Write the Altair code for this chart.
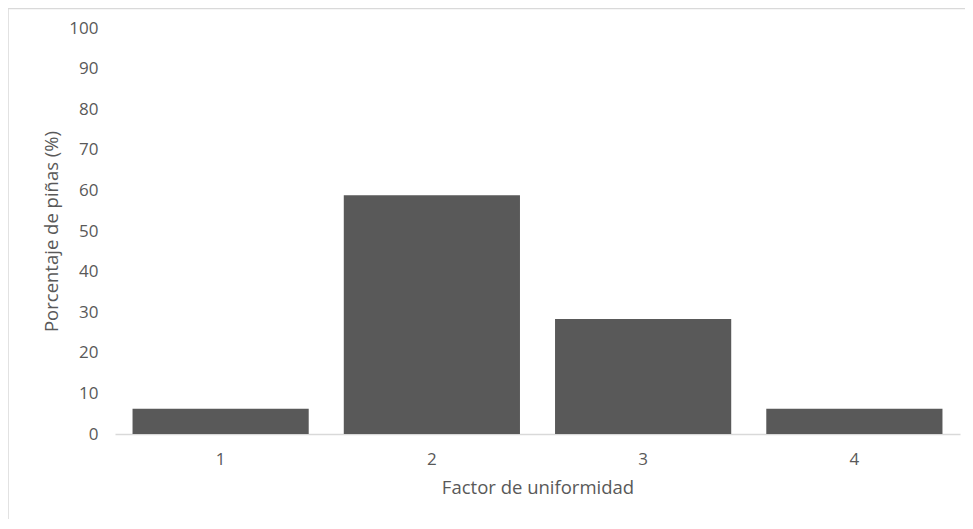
import altair as alt
import pandas as pd

categories = ["1", "2", "3", "4"]
values = [6.2, 58.8, 28.3, 6.2]
y_ticks = [0, 10, 20, 30, 40, 50, 60, 70, 80, 90, 100]

df = pd.DataFrame({"factor": categories, "pct": values})
one = pd.DataFrame({"a": [0]})

FONT = "Open Sans"
TXT = "#595959"

bars = alt.Chart(df).mark_bar(color="#595959").encode(
    x=alt.X(
        "factor:N",
        sort=categories,
        title="Factor de uniformidad",
        scale=alt.Scale(paddingInner=0.166, paddingOuter=0.083),
        axis=alt.Axis(
            labelAngle=0, ticks=False, domainColor="#d9d9d9", domainWidth=1.5,
            labelPadding=17, titlePadding=11,
        ),
    ),
    y=alt.Y(
        "pct:Q",
        title="Porcentaje de piñas (%)",
        scale=alt.Scale(domain=[0, 100]),
        axis=alt.Axis(
            values=y_ticks, grid=False, domain=False, ticks=False,
            labelPadding=17, titlePadding=7,
        ),
    ),
)

left_border = alt.Chart(one).mark_rule(color="#d9d9d9", strokeWidth=1.5).encode(
    x=alt.value(-107), y=alt.value(-20), y2=alt.value(520)
)
top_border = alt.Chart(one).mark_rule(color="#d9d9d9", strokeWidth=1.5).encode(
    x=alt.value(-107), x2=alt.value(860), y=alt.value(-19.5)
)

chart = alt.layer(left_border, top_border, bars).properties(
    width=845,
    height=406,
    padding={"left": 107, "top": 20, "right": 5, "bottom": 85},
    autosize=alt.AutoSizeParams(type="none"),
).configure_view(strokeWidth=0).configure_axis(
    labelFont=FONT, titleFont=FONT, labelColor=TXT, titleColor=TXT,
    labelFontSize=17, titleFontSize=18.5, titleFontWeight="normal",
)

chart.save("out.html", embed_options={"renderer": "svg", "actions": False})
